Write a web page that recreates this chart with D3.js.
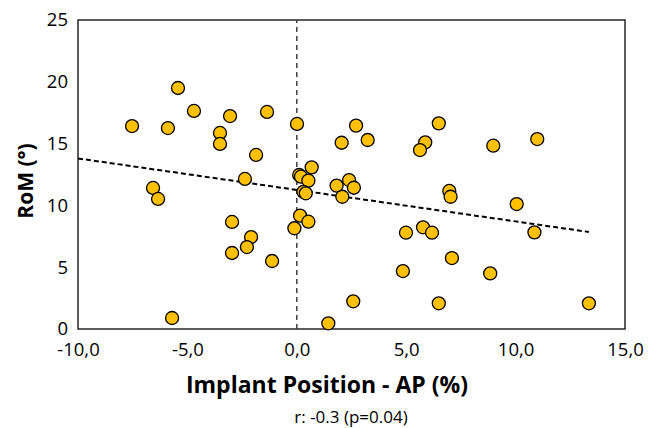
<!DOCTYPE html>
<html>
<head>
<meta charset="utf-8">
<script src="https://cdn.jsdelivr.net/npm/d3@7"></script>
<style>
  body { margin: 0; background: #fff; }
  text { font-family: "Open Sans", "Noto Sans", sans-serif; fill: #000; }
</style>
</head>
<body>
<svg id="chart" width="658" height="428"></svg>
<script>
// implant position AP (%) vs range of motion (deg)
const apPos = [-7.53, -5.89, -5.43, -4.70, -3.05, -3.51, -3.51, -1.36, -1.86, 0.01,
  -2.37, -6.57, -6.34, -2.96, -2.09, -2.28, -2.96, -1.13, -5.70,
  0.68, 0.11, 0.19, 0.53, 0.30, 0.41, 1.82, 2.39, 2.61, 2.08, 0.15, 0.53, -0.11,
  2.71, 2.05, 3.24, 6.49, 5.87, 5.63, 8.98, 10.99,
  6.97, 7.03, 10.05, 10.86, 4.99, 5.77, 6.18, 7.09, 4.85, 8.84, 2.58, 6.49, 13.35, 1.44];
const rom = [16.42, 16.26, 19.5, 17.64, 17.23, 15.86, 14.97, 17.56, 14.08, 16.59,
  12.14, 11.41, 10.52, 8.66, 7.44, 6.63, 6.15, 5.50, 0.89,
  13.08, 12.46, 12.32, 12.0, 11.1, 10.98, 11.6, 12.05, 11.43, 10.70, 9.17, 8.68, 8.15,
  16.45, 15.07, 15.29, 16.64, 15.1, 14.48, 14.83, 15.37,
  11.17, 10.70, 10.11, 7.82, 7.79, 8.23, 7.79, 5.74, 4.69, 4.50, 2.24, 2.08, 2.08, 0.46];

const trendX = [-10, 13.35];
const trendY = [13.8, 7.85];

const xTicks = [-10, -5, 0, 5, 10, 15];
const yTicks = [0, 5, 10, 15, 20, 25];

const margin = {top: 20, left: 78, right: 33, bottom: 99};
const W = 658, H = 428;
const svg = d3.select("#chart");

const x = d3.scaleLinear().domain([-10, 15]).range([margin.left, W - margin.right]);
const y = d3.scaleLinear().domain([0, 25]).range([H - margin.bottom, margin.top]);

const fmt = d => d3.format(".1f")(d).replace(".", ",").replace("−", "-");

// plot frame
svg.append("rect")
  .attr("x", x(-10)).attr("y", y(25))
  .attr("width", x(15) - x(-10)).attr("height", y(0) - y(25))
  .attr("fill", "none").attr("stroke", "#262626").attr("stroke-width", 1.5);

// axes labels
const xAxis = svg.append("g").attr("transform", `translate(0,${y(0)})`)
  .call(d3.axisBottom(x).tickValues(xTicks).tickFormat(fmt).tickSize(0).tickPadding(14));
const yAxis = svg.append("g").attr("transform", `translate(${x(-10)},0)`)
  .call(d3.axisLeft(y).tickValues(yTicks).tickSize(0).tickPadding(10));
[xAxis, yAxis].forEach(a => {
  a.select(".domain").remove();
  a.selectAll("text").style("font-size", "18.5px").attr("fill", "#000");
});

// x = 0 reference line
svg.append("line")
  .attr("x1", x(0)).attr("x2", x(0)).attr("y1", y(0)).attr("y2", y(25))
  .attr("stroke", "#404040").attr("stroke-width", 1.5).attr("stroke-dasharray", "5,4");

// trend line
svg.append("line")
  .attr("x1", x(trendX[0])).attr("y1", y(trendY[0]))
  .attr("x2", x(trendX[1])).attr("y2", y(trendY[1]))
  .attr("stroke", "#000").attr("stroke-width", 2).attr("stroke-dasharray", "5,3");

svg.append("g").selectAll("circle")
  .data(apPos.map((d, i) => [d, rom[i]]))
  .enter().append("circle")
  .attr("cx", d => x(d[0])).attr("cy", d => y(d[1]))
  .attr("r", 6.5)
  .attr("fill", "#ffc000").attr("stroke", "#000").attr("stroke-width", 1.3);

svg.append("text")
  .attr("transform", `translate(33,181) rotate(-90)`)
  .attr("text-anchor", "middle")
  .style("font-size", "21px").style("font-weight", "bold")
  .text("RoM (°)");

svg.append("text")
  .attr("x", 327).attr("y", 393)
  .attr("text-anchor", "middle")
  .style("font-size", "23px").style("font-weight", "bold")
  .text("Implant Position - AP (%)");

svg.append("text")
  .attr("x", 351).attr("y", 423)
  .attr("text-anchor", "middle")
  .style("font-size", "17px")
  .text("r: -0.3 (p=0.04)");
</script>
</body>
</html>
